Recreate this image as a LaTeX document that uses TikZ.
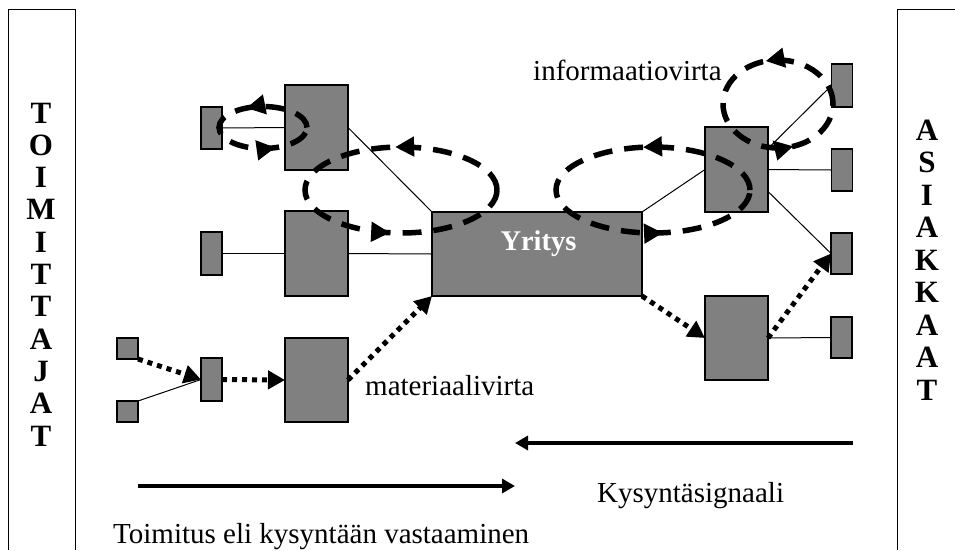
\documentclass[tikz,border=0pt]{standalone}
\usepackage{fontspec}
\setmainfont{Liberation Serif}
\usetikzlibrary{arrows.meta,decorations.markings,calc}
\definecolor{boxgray}{HTML}{808080}

\begin{document}
\begin{tikzpicture}[x=1pt,y=-1pt,
  box/.style={draw=black, line width=1.3pt, fill=boxgray, inner sep=0pt, outer sep=0pt},
  frame/.style={black, line width=1pt},
  thinlink/.style={black, line width=1pt},
  matflow/.style={black, line width=5pt, dash pattern=on 5pt off 5pt,
    -{Triangle[length=17pt,width=18pt]}},
  demand/.style={black, line width=4pt, -{Triangle[length=13pt,width=14pt]}},
  infoloop/.style={black, line width=5.5pt, dash pattern=on 19pt off 12pt},
  loopmarks/.style 2 args={postaction={decorate, decoration={markings,
    mark=at position #1 with {\arrow{Triangle[length=19pt,width=19pt]}},
    mark=at position #2 with {\arrow{Triangle[length=19pt,width=19pt]}}}}},
  txt/.style={font=\fontsize{29}{34}\selectfont, inner sep=0pt, anchor=base west},
  letter/.style={font=\fontsize{31}{34}\selectfont\bfseries, inner sep=0pt, anchor=base},
]
\useasboundingbox (0,0) rectangle (955,550);

% side frames: suppliers (left) and customers (right)
\draw[frame] (8,550) -- (8,9) -- (75,9) -- (75,550);
\draw[frame] (897,550) -- (897,9) -- (957,9);

\foreach \ch [count=\i] in {T,O,I,M,I,T,T,A,J,A,T}
  \node[letter] (sup\i) at (41,{123+32.3*(\i-1)}) {\ch};
\foreach \ch [count=\i] in {A,S,I,A,K,K,A,A,T}
  \node[letter] (cus\i) at (927,{140+32.5*(\i-1)}) {\ch};

% supplier side boxes
\node[box, minimum width=21pt, minimum height=42pt] (a1) at (211.5,128) {};
\node[box, minimum width=63pt, minimum height=85pt] (b1) at (316.5,127.5) {};
\node[box, minimum width=21pt, minimum height=43pt] (a2) at (211.5,253.5) {};
\node[box, minimum width=63pt, minimum height=85pt] (b2) at (316.5,253.5) {};
\node[box, minimum width=21pt, minimum height=21pt] (c1) at (127.5,348.5) {};
\node[box, minimum width=21pt, minimum height=21pt] (c2) at (127.5,411.5) {};
\node[box, minimum width=21pt, minimum height=43pt] (m3) at (211.5,379.5) {};
\node[box, minimum width=63pt, minimum height=84pt] (b3) at (316.5,380) {};

% company
\node[box, minimum width=210pt, minimum height=84pt] (yr) at (537,254) {};

% customer side boxes
\node[box, minimum width=63pt, minimum height=85pt] (r1) at (736.5,169.5) {};
\node[box, minimum width=63pt, minimum height=84pt] (r3) at (736.5,338) {};
\node[box, minimum width=21pt, minimum height=43pt] (s1) at (842,85.5) {};
\node[box, minimum width=21pt, minimum height=42pt] (s2) at (842,170) {};
\node[box, minimum width=21pt, minimum height=41pt] (s3) at (841.5,253.5) {};
\node[box, minimum width=21pt, minimum height=41pt] (s4) at (841.5,337.5) {};

% plain links
\draw[thinlink] (a1.east) -- (b1.west);
\draw[thinlink] (a2.east) -- (b2.west);
\draw[thinlink] (b1.east) -- (yr.north west);
\draw[thinlink] (b2.east) -- (yr.west);
\draw[thinlink] (c2.north east) -- (m3.west);
\draw[thinlink] (yr.north east) -- (r1.west);
\draw[thinlink] (r1.east) -- (s2.west);
\draw[thinlink] ($(r1.east)+(0,22)$) -- (s3.west);
\draw[thinlink] (s1.west) -- ($(r1.east)+(0,-21)$);
\draw[thinlink] (r3.east) -- (s4.west);

% material flow
\draw[matflow] (c1.south east) -- (m3.west);
\draw[matflow] (m3.east) -- (b3.west);
\draw[matflow] (b3.east) -- (yr.south west);
\draw[matflow] (yr.south east) -- (r3.west);
\draw[matflow] (r3.east) -- (s3.west);

% information flow loops
\draw[infoloop, loopmarks={0.33}{0.81}] (263,127.5) ellipse [x radius=44pt, y radius=21pt];
\draw[infoloop, loopmarks={0.263}{0.726}] (401,190) ellipse [x radius=96pt, y radius=43pt];
\draw[infoloop, loopmarks={0.272}{0.772}] (653,190) ellipse [x radius=97pt, y radius=43pt];
\draw[infoloop, loopmarks={0.29}{0.80}] (778,104) ellipse [x radius=55pt, y radius=44pt];

\node[font=\fontsize{28.5}{34}\selectfont\bfseries, text=white, inner sep=0pt, anchor=base]
  (yrlbl) at (538.5,250) {Yritys};

% demand signal and delivery arrows
\coordinate (ks) at (853,443);
\coordinate (ke) at (515,443);
\coordinate (ts) at (138,486);
\coordinate (te) at (515,486);
\draw[demand] (ks) -- (ke);
\draw[demand] (ts) -- (te);

\node[txt] (infolbl) at (533,80) {informaatiovirta};
\node[txt] (matlbl) at (365,395) {materiaalivirta};
\node[txt] (kyslbl) at (597,502) {Kysyntäsignaali};
\node[txt] (toimlbl) at (113,543) {Toimitus eli kysyntään vastaaminen};
\end{tikzpicture}
\end{document}
